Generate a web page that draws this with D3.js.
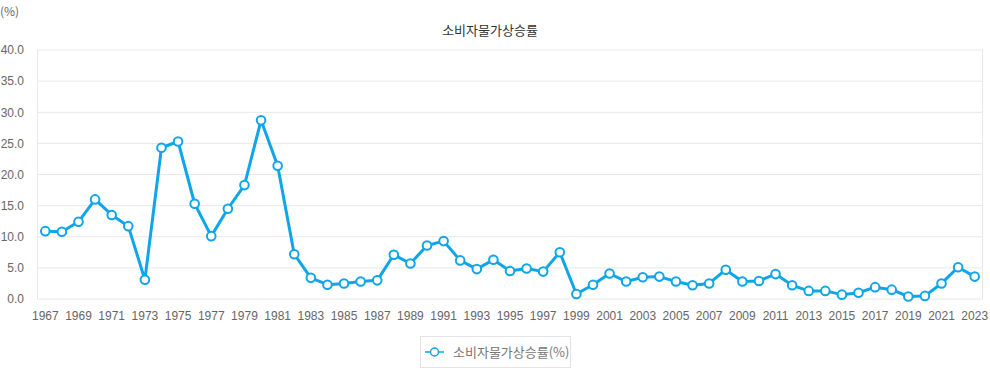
<!DOCTYPE html>
<html><head><meta charset="utf-8">
<script src="https://cdn.jsdelivr.net/npm/d3@7"></script>
<style>
html,body{margin:0;padding:0;background:#fff;}
svg{display:block;font-family:"Noto Sans CJK KR","Noto Sans",sans-serif;}
</style></head>
<body><svg id="c" width="990" height="368"></svg>
<script>
const years = d3.range(1967, 2024).map(String);
const cpi = [10.9,10.8,12.4,16.0,13.5,11.7,3.1,24.3,25.3,15.3,10.1,14.5,18.3,28.7,21.4,7.2,3.4,2.3,2.5,2.8,3.0,7.1,5.7,8.6,9.3,6.2,4.8,6.3,4.5,4.9,4.4,7.5,0.8,2.3,4.1,2.8,3.5,3.6,2.8,2.2,2.5,4.7,2.8,2.9,4.0,2.2,1.3,1.3,0.7,1.0,1.9,1.5,0.4,0.5,2.5,5.1,3.6];
const yTicks = [0,5,10,15,20,25,30,35,40];
const title = "소비자물가상승률";
const seriesName = "소비자물가상승률(%)";
const unit = "(%)";

const svg = d3.select("#c");
const L = 37, R = 983, T = 50, B = 299;
const x = d3.scaleBand().domain(years).range([L, R]);
const y = d3.scaleLinear().domain([0, 40]).range([B, T]);
const blue = "#0fa5e9";

// grid
svg.append("g").selectAll("line").data(yTicks).join("line")
  .attr("x1", L).attr("x2", R).attr("y1", d => y(d)).attr("y2", d => y(d))
  .attr("stroke", "#e8e8e8").attr("stroke-width", 1);
svg.append("line").attr("x1", L+0.5).attr("x2", L+0.5).attr("y1", T).attr("y2", B).attr("stroke", "#e8e8e8");
svg.append("line").attr("x1", R-0.5).attr("x2", R-0.5).attr("y1", T).attr("y2", B).attr("stroke", "#e8e8e8");

// y axis
const ya = svg.append("g").attr("transform", `translate(${L},0)`)
  .call(d3.axisLeft(y).tickValues(yTicks).tickFormat(d3.format(".1f")).tickSize(0).tickPadding(13));
ya.select(".domain").remove();
ya.selectAll("text").attr("fill", "#666").style("font-size", "12px").style("font-family", "inherit");

// x axis
const xa = svg.append("g").attr("transform", `translate(0,${B})`)
  .call(d3.axisBottom(x).tickValues(years.filter((d,i) => i % 2 === 0)).tickSize(0).tickPadding(12));
xa.select(".domain").remove();
xa.selectAll("text").attr("fill", "#666").style("font-size", "12px").style("font-family", "inherit");

// line
const line = d3.line().x((d,i) => x(years[i]) + x.bandwidth()/2).y(d => y(d));
svg.append("path").datum(cpi).attr("d", line).attr("fill", "none")
  .attr("stroke", blue).attr("stroke-width", 3).attr("stroke-linejoin", "round");
svg.append("g").selectAll("circle").data(cpi).join("circle")
  .attr("cx", (d,i) => x(years[i]) + x.bandwidth()/2).attr("cy", d => y(d)).attr("r", 4.3)
  .attr("fill", "#fff").attr("stroke", blue).attr("stroke-width", 2);

// title & unit
svg.append("text").attr("x", 490).attr("y", 35).attr("text-anchor", "middle")
  .attr("fill", "#333").style("font-size", "13px").text(title);
svg.append("text").attr("x", 0).attr("y", 16).attr("fill", "#666").style("font-size", "12px").text(unit);

// legend
const lg = svg.append("g");
lg.append("rect").attr("x", 420.5).attr("y", 336.5).attr("width", 150).attr("height", 31)
  .attr("fill", "#fff").attr("stroke", "#e3e3e3");
lg.append("line").attr("x1", 425).attr("x2", 444).attr("y1", 352).attr("y2", 352).attr("stroke", blue).attr("stroke-width", 1.5);
lg.append("circle").attr("cx", 434.5).attr("cy", 352).attr("r", 4).attr("fill", "#fff").attr("stroke", blue).attr("stroke-width", 1.5);
lg.append("text").attr("x", 453).attr("y", 357).attr("fill", "#777").style("font-size", "13px").text(seriesName);
</script></body></html>
